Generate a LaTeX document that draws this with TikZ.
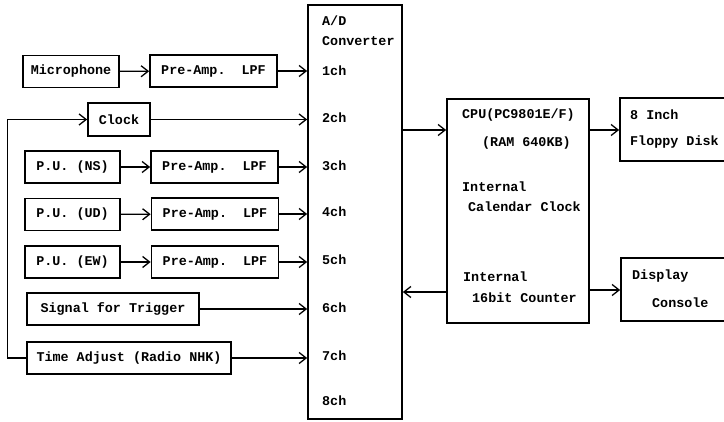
\documentclass[tikz,border=0pt]{standalone}
\usepackage{fontspec}
\setmonofont{Liberation Mono}
\usetikzlibrary{arrows.meta}
\begin{document}
\begin{tikzpicture}[x=1pt,y=-1pt,>={Straight Barb[length=7pt,width=11pt,line width=1.3pt]},
  font=\ttfamily\bfseries\fontsize{13.4}{15}\selectfont]
  \tikzstyle{block}=[draw,line width=1.7pt,minimum height=32pt,inner sep=0pt]
  \tikzstyle{txt}=[anchor=west,inner sep=0pt]
  \tikzstyle{link}=[->,line width=1.3pt]
  \useasboundingbox (0,0) rectangle (724,422);
  % sensors and amplifiers
  \node[block,minimum width=96pt] (mic) at (71,71.5) {Microphone};
  \node[block,minimum width=127pt] (pre_1) at (213.5,71) {Pre-Amp.\ \ LPF};
  \node[block,minimum width=62pt,minimum height=33pt] (clock) at (119,119.5) {Clock};
  \node[block,minimum width=95pt] (pu_ns) at (72.5,167) {P.U. (NS)};
  \node[block,minimum width=127pt] (pre_3) at (214.5,167) {Pre-Amp.\ \ LPF};
  \node[block,minimum width=95pt] (pu_ud) at (72.5,214.5) {P.U. (UD)};
  \node[block,minimum width=127pt] (pre_4) at (215,214) {Pre-Amp.\ \ LPF};
  \node[block,minimum width=95pt] (pu_ew) at (72.5,262) {P.U. (EW)};
  \node[block,minimum width=127pt] (pre_5) at (215,262) {Pre-Amp.\ \ LPF};
  \node[block,minimum width=172pt] (trig) at (113,309) {Signal for Trigger};
  \node[block,minimum width=204pt] (radio) at (129,358) {Time Adjust (Radio NHK)};
  % converter
  \node[block,minimum width=94pt,minimum height=414pt] (ad) at (355,212) {};
  \node[txt] (ad_1) at (322,21) {A/D};
  \node[txt] (ad_2) at (322,41) {Converter};
  \node[txt] (ch_1) at (322,71) {1ch};
  \node[txt] (ch_2) at (322,118) {2ch};
  \node[txt] (ch_3) at (322,166) {3ch};
  \node[txt] (ch_4) at (322,212) {4ch};
  \node[txt] (ch_5) at (322,260) {5ch};
  \node[txt] (ch_6) at (322,308) {6ch};
  \node[txt] (ch_7) at (322,356) {7ch};
  \node[txt] (ch_8) at (322,401) {8ch};
  % computer and peripherals
  \node[block,minimum width=142pt,minimum height=224pt] (cpu) at (518,211) {};
  \node[txt] (cpu_1) at (462,115) {CPU(PC9801E/F)};
  \node[txt] (cpu_2) at (482,143) {(RAM 640KB)};
  \node[txt] (cpu_3) at (462,187) {Internal};
  \node[txt] (cpu_4) at (468,207) {Calendar Clock};
  \node[txt] (cpu_5) at (463,277) {Internal};
  \node[txt] (cpu_6) at (472,298) {16bit Counter};
  \node[block,minimum width=107pt,minimum height=63pt] (fdd) at (673.5,129.5) {};
  \node[txt] (fdd_1) at (630,115) {8 Inch};
  \node[txt] (fdd_2) at (630,142) {Floppy Disk};
  \node[block,minimum width=106pt,minimum height=63pt] (disp) at (674,289.5) {};
  \node[txt] (disp_1) at (632,276) {Display};
  \node[txt] (disp_2) at (652,303) {Console};
  % connections
  \draw[link] (mic) -- (pre_1);
  \draw[link] (pu_ns) -- (pre_3);
  \draw[link] (pu_ud) -- (pre_4);
  \draw[link] (pu_ew) -- (pre_5);
  \draw[link] (pre_1) -- (pre_1 -| ad.west);
  \draw[link] (clock.east) -- (clock.east -| ad.west);
  \draw[link] (pre_3) -- (pre_3 -| ad.west);
  \draw[link] (pre_4) -- (pre_4 -| ad.west);
  \draw[link] (pre_5) -- (pre_5 -| ad.west);
  \draw[link] (trig) -- (trig -| ad.west);
  \draw[link] (radio) -- (radio -| ad.west);
  \draw[link] (radio.west) -- ++(-19,0) |- (clock.west);
  \draw[link] (ad.east |- 0,130) -- (cpu.west |- 0,130);
  \draw[link] (cpu.west |- 0,292) -- (ad.east |- 0,292);
  \draw[link] (cpu.east |- 0,130) -- (fdd.west |- 0,130);
  \draw[link] (cpu.east |- 0,290) -- (disp.west |- 0,290);
\end{tikzpicture}
\end{document}
